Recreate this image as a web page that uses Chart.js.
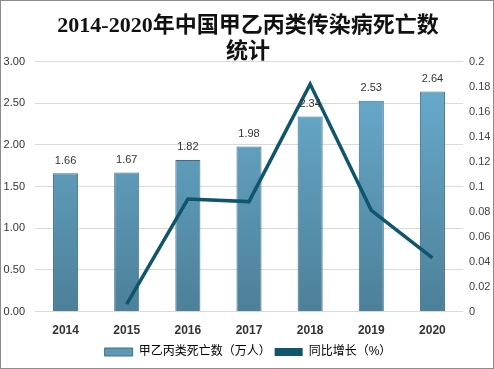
<!DOCTYPE html>
<html>
<head>
<meta charset="utf-8">
<script src="https://cdn.jsdelivr.net/npm/chart.js@4/dist/chart.umd.min.js"></script>
<style>
html,body{margin:0;padding:0;background:#fff;}
#wrap{position:relative;width:494px;height:369px;box-sizing:border-box;border:1px solid #8c8c8c;}
canvas{display:block;}
</style>
</head>
<body>
<div id="wrap"><canvas id="c" width="492" height="367"></canvas></div>
<script>
const titleText = ['2014-2020年中国甲乙丙类传染病死亡数', '统计'];
const categories = ['2014', '2015', '2016', '2017', '2018', '2019', '2020'];
const deaths = [1.66, 1.67, 1.82, 1.98, 2.34, 2.53, 2.64];
const growth = [null, 0.006, 0.09, 0.088, 0.182, 0.081, 0.043];
const barLabel = '甲乙丙类死亡数（万人）';
const lineLabel = '同比增长（%）';

const cjk = '"Liberation Sans", "Noto Sans CJK SC", sans-serif';

function barGradient(ctx) {
  const chart = ctx.chart;
  const area = chart.chartArea;
  if (!area) return '#5d9bba';
  const g = chart.ctx.createLinearGradient(0, area.top, 0, area.bottom);
  g.addColorStop(0, '#6aaed0');
  g.addColorStop(1, '#4d8099');
  return g;
}

const labelPlugin = {
  id: 'barLabels',
  afterDatasetsDraw(chart) {
    const meta = chart.getDatasetMeta(1);
    const c = chart.ctx;
    c.save();
    c.font = '11px ' + cjk;
    c.fillStyle = '#333';
    c.textAlign = 'center';
    c.textBaseline = 'bottom';
    meta.data.forEach((bar, i) => {
      c.fillText(deaths[i].toFixed(2), bar.x, bar.y - 7);
    });
    c.restore();
  }
};

new Chart(document.getElementById('c'), {
  data: {
    labels: categories,
    datasets: [
      {
        type: 'line',
        label: lineLabel,
        data: growth,
        yAxisID: 'y1',
        borderColor: '#0f566c',
        backgroundColor: '#0f566c',
        borderWidth: 3.5,
        pointRadius: 0,
        tension: 0,
        order: 0
      },
      {
        type: 'bar',
        label: barLabel,
        data: deaths,
        yAxisID: 'y',
        backgroundColor: barGradient,
        borderColor: '#3f6f85',
        borderWidth: 1,
        barPercentage: 0.41,
        categoryPercentage: 1,
        order: 1
      }
    ]
  },
  plugins: [labelPlugin],
  options: {
    responsive: false,
    animation: false,
    layout: { padding: { left: 2, right: 0, top: 0, bottom: 0 } },
    plugins: {
      title: {
        display: true,
        text: titleText,
        color: '#111',
        font: { family: '"Liberation Serif", "Noto Sans CJK SC", serif', size: 22, weight: 'bold', lineHeight: 1.15 },
        padding: { top: 13, bottom: -3 }
      },
      legend: {
        position: 'bottom',
        labels: {
          color: '#333',
          font: { family: cjk, size: 12 },
          boxWidth: 28,
          boxHeight: 8,
          padding: 4,
          generateLabels(chart) {
            return [
              { text: barLabel, fillStyle: '#5d98b6', strokeStyle: '#3f6f85', lineWidth: 1, datasetIndex: 1 },
              { text: lineLabel, fillStyle: '#0f566c', strokeStyle: '#0f566c', lineWidth: 0, datasetIndex: 0 }
            ];
          }
        }
      },
      tooltip: { enabled: false }
    },
    scales: {
      x: {
        grid: { display: false },
        border: { display: false },
        ticks: { color: '#333', font: { family: cjk, size: 12, weight: 'bold' }, padding: 4 }
      },
      y: {
        position: 'left',
        min: 0, max: 3,
        ticks: { stepSize: 0.5, color: '#333', font: { family: cjk, size: 11 }, padding: 10,
          callback: v => Number(v).toFixed(2) },
        grid: { color: '#d9d9d9', drawTicks: false },
        border: { display: false },
        afterFit(s) { s.width = 32; }
      },
      y1: {
        position: 'right',
        min: 0, max: 0.2,
        ticks: { stepSize: 0.02, color: '#444', font: { family: cjk, size: 11 }, padding: 6,
          callback: v => String(Math.round(v * 100) / 100) },
        grid: { display: false, drawTicks: false },
        border: { display: false },
        afterFit(s) { s.width = 30; }
      }
    }
  }
});
</script>
</body>
</html>
